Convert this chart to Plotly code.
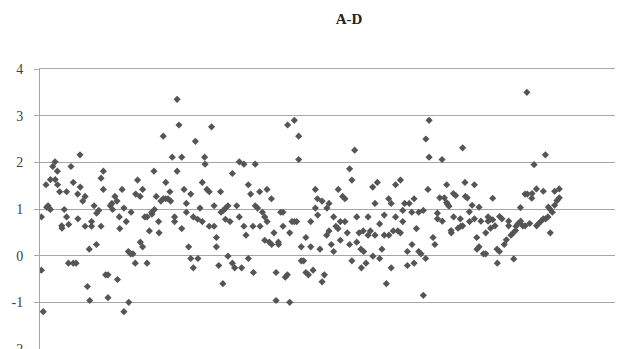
import plotly.graph_objects as go

obs = [
    0.6, 0.6, 1.4, 2.6, 2.9, 3.5, 3.9, 4.5, 4.5, 5.5, 6.5, 6.6, 7.5, 7.6, 8.5, 9.4, 9.5, 10.5, 11.5, 11.5,
    12.3, 12.4, 13.4, 14.4, 14.4, 15.6, 16.3, 16.4, 17.3, 17.4, 18.5, 19.5, 19.5, 20.5, 21.3, 21.5, 22.3, 22.3,
    23.4, 24.4, 24.5, 25.4, 26.4, 26.4, 27.4, 27.4, 28.4, 29.4, 29.4, 30.4, 31.1, 31.4, 32.4, 33.3, 33.5, 34.3,
    34.5, 35.5, 36.3, 36.3, 37.3, 38.2, 38.4, 39.2, 39.4, 40.2, 41.2, 41.4, 42.2, 43.3, 43.4, 44.4, 44.4, 45.3,
    46.3, 46.3, 47.3, 48.3, 48.4, 49.3, 49.5, 50.3, 51.3, 51.5, 52.3, 53.3, 53.3, 54.4, 54.4, 55.4, 56.2, 56.5,
    59.3, 60.1, 57.2, 58.2, 58.2, 59.3, 61.3, 61.3, 62.3, 63.3, 63.3, 64.3, 65.2, 65.2, 66.3, 66.3, 67.2, 68.2,
    68.3, 69.2, 70.2, 70.2, 71.2, 71.4, 72.2, 73.2, 73.2, 74.2, 75.3, 75.3, 76.3, 76.3, 77.3, 78.1, 78.3, 79.1,
    79.3, 80.2, 80.3, 81.3, 81.3, 82.2, 83.2, 83.2, 84.2, 85.1, 86.2, 86.2, 87.2, 88.2, 88.2, 89.1, 90.1, 90.1,
    91.1, 92.1, 92.3, 93.1, 93.1, 94.1, 95.0, 95.2, 96.2, 97.2, 97.2, 98.2, 98.2, 99.2, 100.1, 100.2, 101.2,
    102.1, 102.1, 103.1, 103.2, 104.1, 105.1, 105.1, 106.1, 107.0, 107.1, 108.0, 108.0, 109.0, 110.0, 110.0,
    111.0, 111.9, 111.9,
    113.0, 113.0, 114.0, 115.0, 115.0, 116.1, 117.1, 117.1, 118.1, 119.1, 119.1, 120.0, 120.1, 121.1, 122.0,
    122.0, 123.0, 124.0, 124.1, 125.0, 125.0, 126.0, 127.0, 127.0, 128.0, 128.9, 129.0, 129.9, 129.9, 130.9,
    131.9, 131.9, 132.9, 133.9, 133.9, 134.9, 134.9, 136.1, 137.0, 137.0, 138.0, 138.8, 139.0, 139.8, 140.0,
    141.0, 141.9, 141.9, 142.9, 143.9, 144.0, 144.9, 144.9, 145.9, 146.9, 146.9, 147.9, 148.9, 148.9, 149.8,
    150.8, 150.9, 151.9, 151.9, 152.8, 153.8, 153.8, 154.8, 155.9, 155.9, 156.9, 156.9, 157.7, 158.9, 158.9,
    159.7, 160.8, 160.9, 161.8, 161.8, 162.8, 163.8, 163.8, 164.8, 165.8, 165.8, 166.8, 166.9, 167.8, 168.3,
    168.3,
    170.0, 170.8, 171.9, 171.9, 172.9, 173.9, 174.0, 174.9, 175.9, 175.9, 176.3, 176.9, 177.8, 177.9, 178.8,
    178.9, 179.8, 180.8, 181.8, 182.0, 182.8, 182.8, 183.8, 184.0, 184.8, 185.7, 185.8, 186.9, 187.9, 187.9,
    188.9, 189.0, 189.9, 189.9, 190.7, 191.8, 192.8, 192.8, 193.8, 193.8, 194.8, 194.9, 195.8, 195.8, 196.8,
    197.7, 197.8, 198.7, 198.8, 199.8, 200.8, 201.7, 202.7, 202.7, 203.7, 204.7, 204.9, 205.7, 205.9, 206.8,
    207.8, 207.9, 208.8, 209.8, 209.8, 210.6, 210.8, 211.8, 212.7, 212.8, 213.7, 214.7, 214.8, 215.7, 216.7,
    217.7, 217.7, 218.6, 218.7, 219.7, 219.9, 220.7, 220.7, 221.6, 222.6, 222.6, 223.6, 224.6, 224.6,
]
values = [
    0.83, -0.31, -1.2, 1.52, 1.04, 1.07, 1.02, 0.99, 1.63, 1.91, 2.01, 1.63, 1.81, 1.52, 1.37, 0.64, 0.59, 0.99, 1.37, 0.83,
    -0.16, 0.67, 1.91, 1.57, -0.16, -0.16, 1.32, 0.79, 2.16, 1.47, 1.17, 1.27, 0.63, -0.66, 0.14, -0.96, 0.73, 0.63,
    1.07, 0.24, 0.91, 0.97, 0.63, 1.66, 1.81, 1.42, -0.41, -0.41, -0.9, 1.07, 1.12, 0.99, 1.27, 1.17, -0.51, 0.83,
    0.58, 1.42, 1.02, -1.2, 0.73, 0.09, -1.0, 0.04, 0.93, 0.04, -0.16, 1.32, 1.62, 1.27, 0.29, 1.42, 0.19, 0.83,
    0.83, -0.16, 0.53, 0.93, 0.89, 1.81, 0.99, 1.27, 0.73, 0.49, 1.17, 2.56, 1.22, 1.57, 1.22, 1.22, 1.37, 1.17,
    3.35, 2.8, 2.11, 0.83, 0.73, 1.81, 2.11, 0.58, 1.42, 1.12, 0.93, 0.19, 1.32, -0.06, 0.83, -0.26, 2.45, 0.78,
    -0.06, 1.02, 0.73, 1.57, 2.11, 1.96, 1.42, 1.37, 0.63, 2.76, 0.63, 1.07, 0.39, 0.19, -0.21, 1.37, 0.93, -0.6,
    0.97, 0.78, 1.02, 1.07, -0.01, 0.73, 1.76, -0.16, -0.26, 1.07, 2.01, 0.83, -0.26, 1.96, 0.63, 0.44, 1.52, -0.06,
    1.32, 0.63, -0.36, 1.96, 1.07, 1.02, 1.37, 0.63, 0.93, 0.83, 0.33, 1.42, 0.73, 0.29, 1.22, 0.24, 0.49,
    -0.36, -0.96, 0.29, 0.24, 0.93, 0.93, 0.63, -0.46, -0.41, 2.8, 0.49, -1.0, 0.73, 2.9, 0.73,
    0.73, 2.56, 2.06,
    0.19, -0.11, -0.11, 0.39, -0.36, -0.41, 0.73, 0.19, -0.31, 1.42, 1.02, 1.22, 0.87, 0.14, 1.17,
    -0.56, -0.41, 0.44, 1.02, 1.12, 0.53, 0.24, 0.83, 0.09, 0.63, 0.58, 1.42, 0.73, 0.33, 1.27,
    1.22, 0.73, 0.49, 1.86, 0.24, 1.62, -0.11, 2.26, 0.83, 0.29, 0.49, 0.14, -0.26, 0.53, 0.09,
    -0.16, 0.83, 0.44, 0.53, 1.47, -0.01, 1.12, 0.44, 1.57, 0.68, -0.06, 0.14, 0.87, 0.44, -0.6,
    1.22, 0.44, 1.12, -0.26, 0.53, 1.52, 0.83, 0.53, 1.62, 0.49, 0.73, 0.97, 1.12, 0.09, -0.21,
    1.12, 0.93, 0.24, 1.22, -0.16, 0.58, 0.09, 0.93, 0.04, 0.97, -0.85, -0.06, 2.5, 1.42, 2.9,
    2.11,
    0.39, 0.24, 0.91, 0.79, 1.24, 2.06, 0.74, 1.24, 1.52, 1.14, 1.1, 1.06, 0.54, 0.49, 1.33,
    0.83, 1.29, 0.59, 0.79, 0.63, 2.31, 0.64, 1.57, 1.27, 1.24, 0.94, 0.73, 1.08, 1.52, 0.79,
    0.39, 0.14, 1.04, 0.19, 0.74, 0.04, 0.49, 0.04, 0.83, 0.74, 0.78, 0.59, 1.23, 0.77, 0.64,
    0.14, -0.16, 0.09, 0.84, 0.79, 0.24, 0.34, 0.74, 0.64, 0.44, 0.49, -0.07, 0.54, 0.63, 0.69,
    1.03, 0.74, 0.64, 0.64, 1.32, 3.5, 1.32, 0.69, 1.23, 1.33, 1.95, 1.43, 0.64, 0.69, 0.74,
    1.38, 0.79, 2.16, 0.79, 0.83, 1.04, 0.49, 0.99, 0.93, 1.38, 1.08, 1.18, 1.43, 1.24,
]

y_ticks = [-2, -1, 0, 1, 2, 3, 4]
title_text = "A-D"

# the page has an 8px body margin, so the figure is sized to the visible area
W, H = 615, 341

fig = go.Figure()
fig.add_trace(go.Scatter(
    x=obs, y=values, mode="markers",
    marker=dict(symbol="diamond", size=5.5, color="#555555", line=dict(width=0)),
    showlegend=False, hoverinfo="skip",
))

fig.update_layout(
    width=W, height=H,
    margin=dict(l=32, r=5, t=61, b=0, autoexpand=False),
    paper_bgcolor="white", plot_bgcolor="white",
    title=dict(text="<b>" + title_text + "</b>", x=341 / W, xanchor="center",
               y=1 - 10.5 / H, yanchor="middle", yref="container",
               font=dict(family="Liberation Serif, Times New Roman, serif", size=15, color="#222222")),
    font=dict(family="Liberation Serif, Times New Roman, serif", size=14, color="#404040"),
)
fig.update_xaxes(range=[0, 250], showgrid=False, showticklabels=False, zeroline=False,
                 showline=True, mirror=True, linecolor="#a6a6a6", linewidth=1, ticks="",
                 automargin=False)
fig.update_yaxes(range=[-2, 4], tickvals=y_ticks, ticktext=[str(v) for v in y_ticks],
                 showgrid=True, gridcolor="#a6a6a6", gridwidth=1, zeroline=False,
                 showline=True, linecolor="#a6a6a6", linewidth=1,
                 ticks="outside", ticklen=5, tickcolor="#a6a6a6", ticklabelstandoff=8,
                 ticklabeloverflow="allow", automargin=False)

fig.write_html("out.html")
